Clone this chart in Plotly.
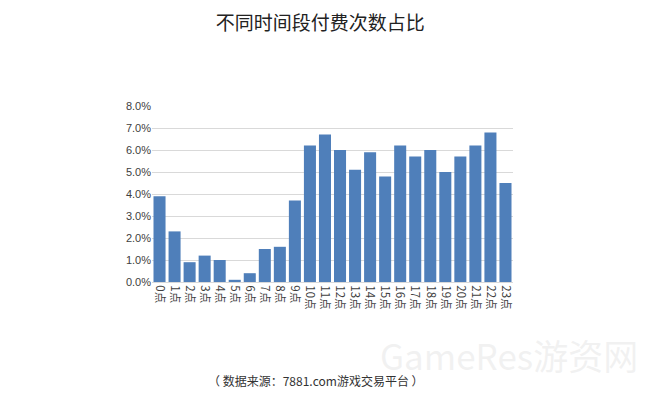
import plotly.graph_objects as go

hours = [f"{i}点" for i in range(24)]
shares = [3.9, 2.3, 0.9, 1.2, 1.0, 0.1, 0.4, 1.5, 1.6, 3.7, 6.2, 6.7,
          6.0, 5.1, 5.9, 4.8, 6.2, 5.7, 6.0, 5.0, 5.7, 6.2, 6.8, 4.5]
y_ticks = [0, 1, 2, 3, 4, 5, 6, 7, 8]
y_tick_labels = [f"{v:.1f}%" for v in y_ticks]

title = "不同时间段付费次数占比"
source = "（ 数据来源：7881.com游戏交易平台 ）"
watermark = "GameRes游资网"

font_cjk = "Noto Sans CJK SC, Microsoft YaHei, sans-serif"

fig = go.Figure(go.Bar(
    x=hours, y=shares,
    marker=dict(color="#4F7FBA", line=dict(width=0)),
    width=0.8,
))

fig.update_layout(
    width=670, height=395,
    margin=dict(l=152, r=157, t=106, b=113),
    paper_bgcolor="white", plot_bgcolor="white",
    showlegend=False,
    font=dict(family=font_cjk, color="#404040", size=11),
    title=dict(text=title, x=0.478, xanchor="center", y=0.942, yanchor="middle",
               font=dict(size=19, color="#222222", family=font_cjk)),
    xaxis=dict(tickangle=90, tickfont=dict(size=11.5, color="#404040"),
               showgrid=False, showline=True, linecolor="#d9d9d9", linewidth=1,
               ticks="", fixedrange=True),
    yaxis=dict(range=[0, 8], tickvals=y_ticks, ticktext=y_tick_labels,
               showgrid=True, gridcolor="#d9d9d9", gridwidth=1,
               zeroline=False, showline=False, ticks="", fixedrange=True,
               tickfont=dict(size=11, color="#404040", family="Liberation Sans, Arial, sans-serif")),
    annotations=[
        dict(text=watermark, xref="paper", yref="paper", x=0.99, xanchor="center",
             y=-0.41, yanchor="middle", showarrow=False,
             font=dict(size=35, color="rgba(215,215,215,0.35)", family=font_cjk)),
        dict(text=source, xref="paper", yref="paper", x=0.454, xanchor="center",
             y=-0.557, yanchor="middle", showarrow=False,
             font=dict(size=12, color="#333333", family=font_cjk)),
    ],
)

fig.write_html("out.html", config={"displayModeBar": False},
               post_script="document.body.style.margin='0';")
